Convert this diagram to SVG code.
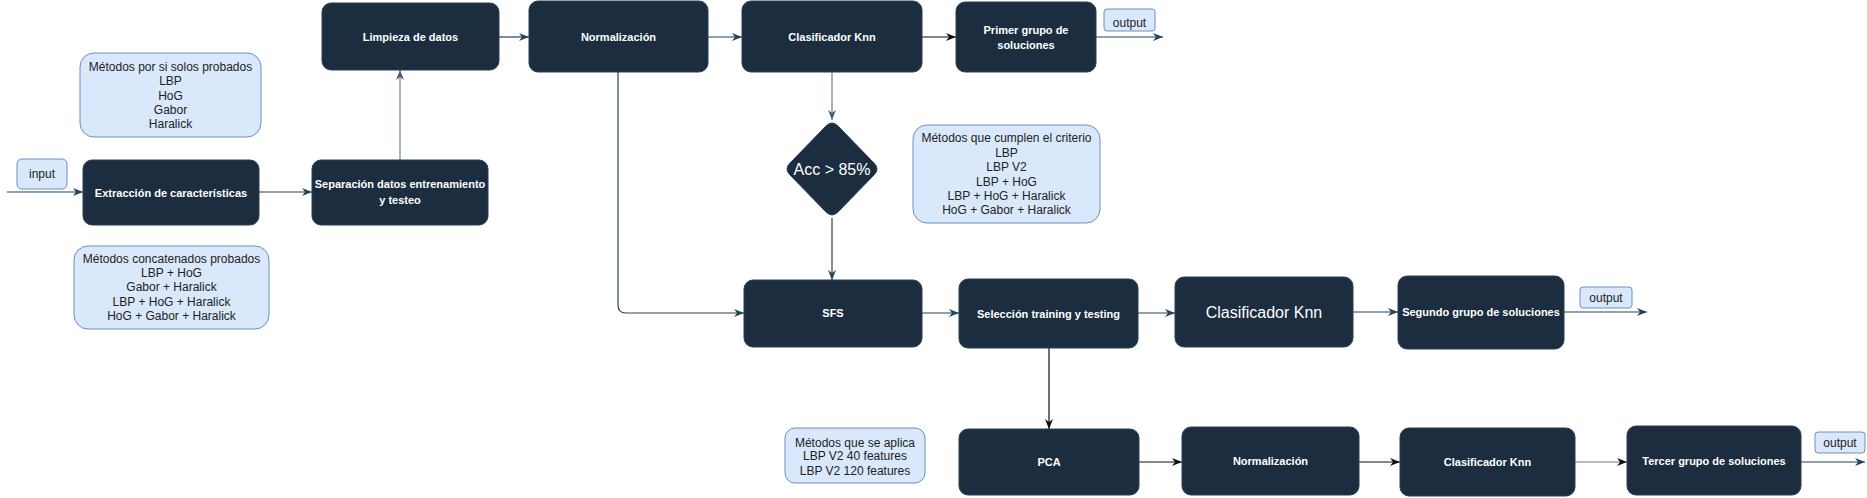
<svg xmlns="http://www.w3.org/2000/svg" width="1867" height="498" viewBox="0 0 1867 498">
<defs>
<style>
.n{fill:#1b2d3f;stroke:#2b4055;stroke-width:1}
.l{fill:#dae8fc;stroke:#6c8ebf;stroke-width:1}
.t{font-family:"Liberation Sans",Arial,sans-serif;font-size:11px;font-weight:bold;fill:#ffffff;text-anchor:middle}
.tb{font-family:"Liberation Sans",Arial,sans-serif;font-size:16px;fill:#ffffff;text-anchor:middle}
.tl{font-family:"Liberation Sans",Arial,sans-serif;font-size:12px;fill:#222222;text-anchor:middle}
.c{fill:none;stroke:#23445d;stroke-width:1.2}
.g{fill:none;stroke:#6b7f92;stroke-width:1.2}
.k{fill:none;stroke:#111111;stroke-width:1.2}
</style>
<marker id="ab" markerWidth="10" markerHeight="8" refX="10" refY="4" orient="auto" markerUnits="userSpaceOnUse"><path d="M0,0 L10,4 L0,8 L3,4 Z" fill="#23445d"/></marker>
<marker id="ag" markerWidth="10" markerHeight="8" refX="10" refY="4" orient="auto" markerUnits="userSpaceOnUse"><path d="M0,0 L10,4 L0,8 L3,4 Z" fill="#4a5f73"/></marker>
<marker id="ak" markerWidth="10" markerHeight="8" refX="10" refY="4" orient="auto" markerUnits="userSpaceOnUse"><path d="M0,0 L10,4 L0,8 L3,4 Z" fill="#111111"/></marker>
</defs>
<rect width="1867" height="498" fill="#ffffff"/>
<g id="connectors">
<path class="c" d="M7,192 L83,192" marker-end="url(#ab)"/>
<path class="c" d="M259,192 L312,192" marker-end="url(#ab)"/>
<path class="g" d="M400,160 L400,70" marker-end="url(#ag)"/>
<path class="c" d="M499,37 L529,37" marker-end="url(#ab)"/>
<path class="c" d="M708,37 L742,37" marker-end="url(#ab)"/>
<path class="k" d="M922,37 L956,37" marker-end="url(#ak)"/>
<path class="c" d="M1096,37 L1163,37" marker-end="url(#ab)"/>
<path class="g" d="M832,72 L832,120" marker-end="url(#ag)"/>
<path class="c" d="M832,218 L832,280" marker-end="url(#ab)"/>
<path class="c" d="M618,72 L618,305 Q618,313 626,313 L744,313" marker-end="url(#ab)"/>
<path class="c" d="M922,313 L959,313" marker-end="url(#ab)"/>
<path class="c" d="M1138,313 L1175,313" marker-end="url(#ab)"/>
<path class="c" d="M1353,312 L1398,312" marker-end="url(#ab)"/>
<path class="c" d="M1564,312 L1647,312" marker-end="url(#ab)"/>
<path class="k" d="M1049,348 L1049,429" marker-end="url(#ak)"/>
<path class="k" d="M1139,462 L1182,462" marker-end="url(#ak)"/>
<path class="k" d="M1359,462 L1400,462" marker-end="url(#ak)"/>
<path class="g" d="M1575,462 L1627,462" marker-end="url(#ak)"/>
<path class="c" d="M1801,462 L1865,462" marker-end="url(#ab)"/>
</g>
<g id="input"><rect class="l" x="17" y="159" width="50" height="30" rx="5"/><text class="tl" x="42" y="178">input</text></g>
<g id="extraccion"><rect class="n" x="83" y="160" width="176" height="65" rx="9"/><text class="t" x="171" y="196.5">Extracción de características</text></g>
<g id="separacion"><rect class="n" x="312" y="160" width="176" height="65" rx="9"/><text class="t" x="400" y="188">Separación datos entrenamiento</text><text class="t" x="400" y="204">y testeo</text></g>
<g id="limpieza"><rect class="n" x="322" y="3" width="177" height="67" rx="9"/><text class="t" x="410.5" y="40.5">Limpieza de datos</text></g>
<g id="normalizacion1"><rect class="n" x="529" y="1" width="179" height="71" rx="9"/><text class="t" x="618.5" y="40.5">Normalización</text></g>
<g id="knn1"><rect class="n" x="742" y="1" width="180" height="71" rx="9"/><text class="t" x="832" y="40.5">Clasificador Knn</text></g>
<g id="primer"><rect class="n" x="956" y="2" width="140" height="70" rx="9"/><text class="t" x="1026" y="34">Primer grupo de</text><text class="t" x="1026" y="48.5">soluciones</text></g>
<g id="output1"><rect class="l" x="1104" y="9" width="51" height="22" rx="3"/><text class="tl" x="1129.5" y="26.5">output</text></g>
<g id="solos"><rect class="l" x="80" y="53" width="181" height="84" rx="14"/>
<text class="tl" x="170.5" y="71">Métodos por si solos probados</text><text class="tl" x="170.5" y="85">LBP</text><text class="tl" x="170.5" y="99.5">HoG</text><text class="tl" x="170.5" y="113.5">Gabor</text><text class="tl" x="170.5" y="128">Haralick</text></g>
<g id="concatenados"><rect class="l" x="74" y="246" width="195" height="83" rx="14"/>
<text class="tl" x="171.5" y="262.5">Métodos concatenados probados</text><text class="tl" x="171.5" y="277">LBP + HoG</text><text class="tl" x="171.5" y="291">Gabor + Haralick</text><text class="tl" x="171.5" y="305.5">LBP + HoG + Haralick</text><text class="tl" x="171.5" y="319.5">HoG + Gabor + Haralick</text></g>
<g id="criterio"><rect class="l" x="913" y="125" width="187" height="98" rx="14"/>
<text class="tl" x="1006.5" y="142">Métodos que cumplen el criterio</text><text class="tl" x="1006.5" y="157">LBP</text><text class="tl" x="1006.5" y="171">LBP V2</text><text class="tl" x="1006.5" y="186">LBP + HoG</text><text class="tl" x="1006.5" y="200">LBP + HoG + Haralick</text><text class="tl" x="1006.5" y="214">HoG + Gabor + Haralick</text></g>
<g id="decision"><path class="n" d="M826,126 Q832,120 838,126 L874,163 Q880,169 874,175 L838,212 Q832,218 826,212 L790,175 Q784,169 790,163 Z"/><text class="tb" x="832" y="175">Acc &gt; 85%</text></g>
<g id="sfs"><rect class="n" x="744" y="280" width="178" height="67" rx="9"/><text class="t" x="833" y="317">SFS</text></g>
<g id="seleccion"><rect class="n" x="959" y="279" width="179" height="69" rx="9"/><text class="t" x="1048.5" y="317.5">Selección training y testing</text></g>
<g id="knn2"><rect class="n" x="1175" y="277" width="178" height="70" rx="9"/><text class="tb" x="1264" y="317.5">Clasificador Knn</text></g>
<g id="segundo"><rect class="n" x="1398" y="276" width="166" height="73" rx="9"/><text class="t" x="1481" y="316">Segundo grupo de soluciones</text></g>
<g id="output2"><rect class="l" x="1580" y="287" width="52" height="21" rx="3"/><text class="tl" x="1606" y="302">output</text></g>
<g id="aplica"><rect class="l" x="785" y="428" width="140" height="55" rx="10"/>
<text class="tl" x="855" y="446.5">Métodos que se aplica</text><text class="tl" x="855" y="460">LBP V2 40 features</text><text class="tl" x="855" y="474.5">LBP V2 120 features</text></g>
<g id="pca"><rect class="n" x="959" y="429" width="180" height="66" rx="9"/><text class="t" x="1049" y="466">PCA</text></g>
<g id="normalizacion2"><rect class="n" x="1182" y="427" width="177" height="68" rx="9"/><text class="t" x="1270.5" y="465">Normalización</text></g>
<g id="knn3"><rect class="n" x="1400" y="428" width="175" height="68" rx="9"/><text class="t" x="1487.5" y="466">Clasificador Knn</text></g>
<g id="tercer"><rect class="n" x="1627" y="426" width="174" height="69" rx="9"/><text class="t" x="1714" y="465">Tercer grupo de soluciones</text></g>
<g id="output3"><rect class="l" x="1815" y="432" width="50" height="21" rx="3"/><text class="tl" x="1840" y="447">output</text></g>
</svg>
